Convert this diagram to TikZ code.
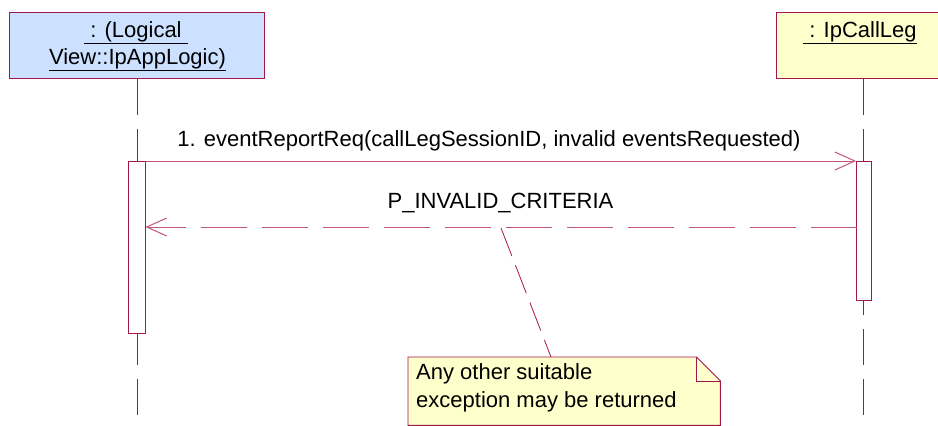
\documentclass[tikz,border=0pt]{standalone}
\usepackage{fontspec}
\setmainfont{Liberation Sans}
\usetikzlibrary{arrows.meta}
\definecolor{umlred}{HTML}{A3164B}
\definecolor{msgpink}{HTML}{C2557A}
\definecolor{objblue}{HTML}{CCE0FF}
\definecolor{objyellow}{HTML}{FFFFCC}
\definecolor{lifegray}{HTML}{444444}
\tikzset{
  obj/.style={draw=umlred, line width=0.9pt, minimum height=66pt, inner sep=0pt},
  lifeline/.style={draw=lifegray, line width=1pt, dash pattern=on 36pt off 14pt},
  actbox/.style={draw=umlred, fill=white, line width=0.9pt, minimum width=17pt, inner sep=0pt},
  msg/.style={draw=msgpink, line width=1pt, -{Straight Barb[length=20pt,width=18pt,line width=1pt]}},
  ret/.style={draw=msgpink, line width=1pt, dash pattern=on 46pt off 15pt, -{Straight Barb[length=20pt,width=18pt,line width=1pt]}},
  lbl/.style={font=\fontsize{22}{28}\selectfont, inner sep=0pt, anchor=base},
  notebody/.style={inner sep=0pt, minimum width=312pt, minimum height=68pt}
}
\begin{document}
\begin{tikzpicture}[x=1pt,y=-1pt]
\useasboundingbox (0,0) rectangle (938,426);
% objects
\node[obj, fill=objblue, minimum width=255pt, anchor=north west] (a) at (9,12) {};
\node[lbl] (at1) at (136,37) {\underline{\ : (Logical\ }};
\node[lbl] (at2) at (137.5,64) {\underline{View::IpAppLogic)}};
\node[obj, fill=objyellow, minimum width=162pt, anchor=north west] (b) at (776,12) {};
\node[lbl] (bt) at (860,37) {\underline{\ : IpCallLeg}};
% lifelines
\coordinate (aend) at (137,426);
\coordinate (bend) at (863,426);
\draw[lifeline] (a.south -| 137,0) -- (aend);
\draw[lifeline] (b.south -| 863,0) -- (bend);
% activations
\node[actbox, minimum height=172pt, anchor=north] (la) at (137,161) {};
\node[actbox, minimum height=139pt, anchor=north, minimum width=15pt] (ra) at (864,161) {};
% messages
\draw[msg] (la.north east) -- (ra.north west);
\node[lbl] (m1) at (489,146) {1. eventReportReq(callLegSessionID, invalid eventsRequested)};
\coordinate (r1) at (856.5,227);
\coordinate (r2) at (145.5,227);
\draw[ret] (r1) -- (r2);
\node[lbl] (m2) at (500.5,208) {P\_INVALID\_CRITERIA};
% note
\node[notebody, anchor=north west] (n) at (408,357) {};
\fill[objyellow] (n.north west) -- ([xshift=-24pt]n.north east) -- ([yshift=-24pt]n.north east) -- (n.south east) -- (n.south west) -- cycle;
\draw[umlred, line width=0.9pt] (n.north west) -- ([xshift=-24pt]n.north east) -- ([yshift=-24pt]n.north east) -- (n.south east) -- (n.south west) -- cycle;
\draw[umlred, line width=0.9pt] ([xshift=-24pt]n.north east) |- ([yshift=-24pt]n.north east);
\node[lbl, anchor=base west] (nt1) at (416,379) {Any other suitable};
\node[lbl, anchor=base west] (nt2) at (416,407) {exception may be returned};
\coordinate (na) at (501,228);
\draw[umlred, line width=0.8pt, dash pattern=on 30pt off 10pt] (na) -- (n.north west -| 551,0);
\end{tikzpicture}
\end{document}
